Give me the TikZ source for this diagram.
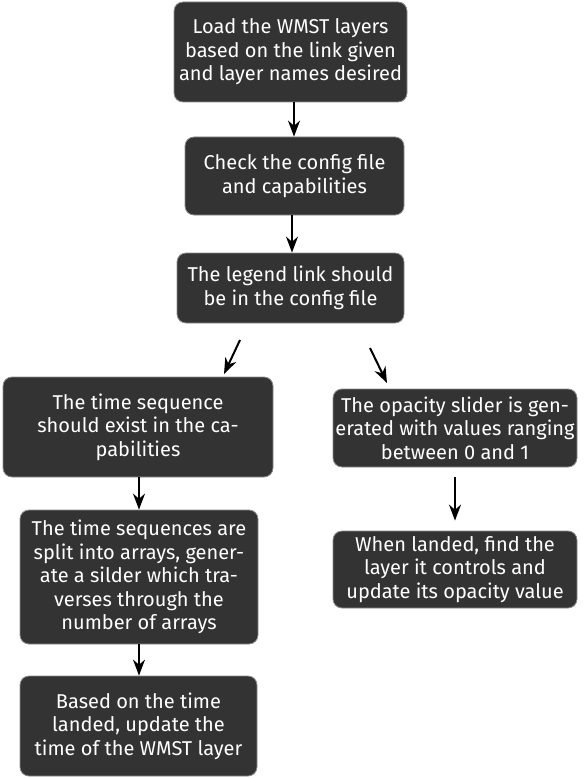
\documentclass[tikz,border=0pt]{standalone}
\usepackage{fontspec}
\setmainfont{Fira Sans}
\usetikzlibrary{arrows.meta,positioning}

\begin{document}
\begin{tikzpicture}
   [x=1pt,y=1pt,
    box/.style={rectangle,rounded corners=9pt,draw=black!45,line width=0.8pt,
	 fill=black!80,text=white,align=center,inner sep=0pt,
	 font=\fontsize{20}{23.5}\selectfont},
    arr/.style={-{Stealth[length=16pt,width=12pt]},line width=2pt}]
\useasboundingbox (0,0) rectangle (583,-778);
\node [box,minimum width=233pt,minimum height=100pt] (load) at (290.5,-52)
	{Load the WMST layers\\based on the link given\\and layer names desired};
\node [box,minimum width=219pt,minimum height=78pt] (check) at (294.5,-176)
	{Check the config file\\and capabilities};
\node [box,minimum width=227pt,minimum height=70pt] (legend) at (290.5,-288)
	{The legend link should\\be in the config file};
\node [box,minimum width=270pt,minimum height=100pt] (timeseq) at (138,-427)
	{The time sequence\\should exist in the ca-\\pabilities};
\node [box,minimum width=238pt,minimum height=134pt] (split) at (139,-577)
	{The time sequences are\\split into arrays, gener-\\ate a silder which tra-\\verses through the\\number of arrays};
\node [box,minimum width=237pt,minimum height=100pt] (update) at (138.5,-726)
	{Based on the time\\landed, update the\\time of the WMST layer};
\node [box,minimum width=244pt,minimum height=78pt] (opacity) at (455,-428)
	{The opacity slider is gen-\\erated with values ranging\\between 0 and 1};
\node [box,minimum width=244pt,minimum height=77pt] (landed) at (455,-569.5)
	{When landed, find the\\layer it controls and\\update its opacity value};
% loose arrows under the legend box
\coordinate (ltail) at (240,-340);
\coordinate (lhead) at (224,-374);
\coordinate (rtail) at (370,-348);
\coordinate (rhead) at (387,-383);
\draw [arr] (load.south -| 294,0) -- (check.north -| 294,0);
\draw [arr] (check.south -| 292,0) -- (legend.north -| 292,0);
\draw [arr] (ltail) -- (lhead);
\draw [arr] (rtail) -- (rhead);
\draw [arr] (timeseq.south -| 139,0) -- (split.north -| 139,0);
\draw [arr] (split.south -| 139,0) -- (update.north -| 139,0);
\draw [arr] ([yshift=-10pt]opacity.south) -- ([yshift=10pt]landed.north);
\end{tikzpicture}
\end{document}
